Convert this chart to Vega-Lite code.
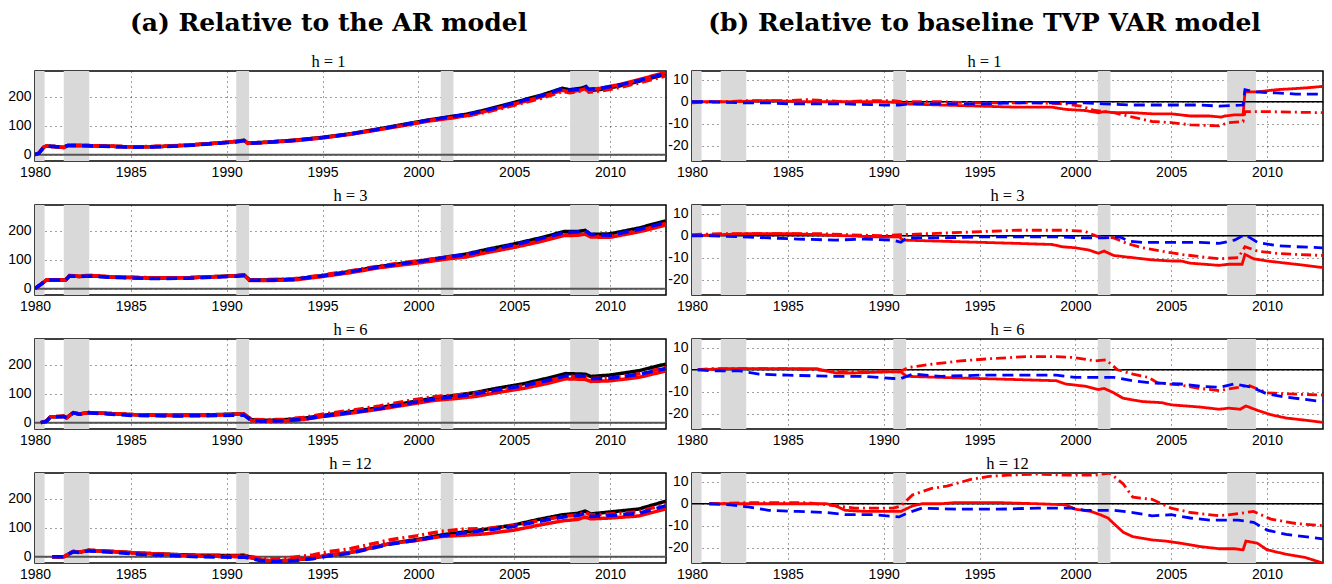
{
"$schema": "https://vega.github.io/schema/vega-lite/v6.json",
"background": "white",
"padding": {"left": 6, "top": 9, "right": 8, "bottom": 4},
"config": {
 "view": {"stroke": "#000", "strokeWidth": 1.5},
 "axis": {"labelFont": "Liberation Sans", "labelFontSize": 14, "labelColor": "#000", "gridColor": "#000", "gridDash": [1, 4], "gridOpacity": 0.75, "ticks": false, "domain": false, "title": null, "labelFlush": false},
 "axisX": {"labelPadding": 4},
 "axisY": {"labelPadding": 4},
 "title": {"color": "#000", "font": "Liberation Serif", "fontSize": 16.5, "fontWeight": "normal", "anchor": "middle", "frame": "group", "offset": 1, "subtitleColor": "#000", "subtitleFont": "Liberation Serif", "subtitleFontSize": 16.5, "subtitlePadding": 18}
},
"datasets": {
 "rec": [{"x0":1980.0,"x1":1980.5},{"x0":1981.5,"x1":1982.83},{"x0":1990.5,"x1":1991.17},{"x0":2001.17,"x1":2001.83},{"x0":2007.92,"x1":2009.42}],
 "zero": [{"z":0}],
 "a1": [
{"s":"k","x":1980,"y":0},{"s":"k","x":1980.2,"y":5},{"s":"k","x":1980.45,"y":26},{"s":"k","x":1980.6,"y":30},{"s":"k","x":1981,"y":28},{"s":"k","x":1981.5,"y":25},{"s":"k","x":1981.7,"y":32},{"s":"k","x":1982.5,"y":32},{"s":"k","x":1983.5,"y":30},{"s":"k","x":1985,"y":27},{"s":"k","x":1986.5,"y":28},{"s":"k","x":1988,"y":33},{"s":"k","x":1989.5,"y":40},{"s":"k","x":1990.5,"y":46},{"s":"k","x":1990.9,"y":50},{"s":"k","x":1991.1,"y":40},{"s":"k","x":1992,"y":43},{"s":"k","x":1993.5,"y":50},{"s":"k","x":1995,"y":60},{"s":"k","x":1996.5,"y":73},{"s":"k","x":1998,"y":90},{"s":"k","x":1999.5,"y":108},{"s":"k","x":2000.5,"y":120},{"s":"k","x":2001.5,"y":130},{"s":"k","x":2002.5,"y":140},{"s":"k","x":2003.5,"y":155},{"s":"k","x":2004.5,"y":172},{"s":"k","x":2005.5,"y":190},{"s":"k","x":2006.5,"y":208},{"s":"k","x":2007.5,"y":230},{"s":"k","x":2007.9,"y":225},{"s":"k","x":2008.5,"y":230},{"s":"k","x":2008.75,"y":236},{"s":"k","x":2008.9,"y":222},{"s":"k","x":2009.5,"y":226},{"s":"k","x":2010.5,"y":238},{"s":"k","x":2011.5,"y":254},{"s":"k","x":2012.9,"y":278},
{"s":"r","x":1980,"y":0},{"s":"r","x":1980.2,"y":5},{"s":"r","x":1980.45,"y":26},{"s":"r","x":1980.6,"y":30},{"s":"r","x":1981,"y":28},{"s":"r","x":1981.5,"y":25},{"s":"r","x":1981.7,"y":32},{"s":"r","x":1982.5,"y":32},{"s":"r","x":1983.5,"y":30},{"s":"r","x":1985,"y":27},{"s":"r","x":1986.5,"y":28},{"s":"r","x":1988,"y":33},{"s":"r","x":1989.5,"y":40},{"s":"r","x":1990.5,"y":46},{"s":"r","x":1990.9,"y":49},{"s":"r","x":1991.1,"y":39},{"s":"r","x":1992,"y":42},{"s":"r","x":1993.5,"y":48},{"s":"r","x":1995,"y":58},{"s":"r","x":1996.5,"y":71},{"s":"r","x":1998,"y":87},{"s":"r","x":1999.5,"y":104},{"s":"r","x":2000.5,"y":116},{"s":"r","x":2001.5,"y":125},{"s":"r","x":2002.5,"y":135},{"s":"r","x":2003.5,"y":150},{"s":"r","x":2004.5,"y":167},{"s":"r","x":2005.5,"y":184},{"s":"r","x":2006.5,"y":202},{"s":"r","x":2007.5,"y":223},{"s":"r","x":2007.9,"y":218},{"s":"r","x":2008.5,"y":224},{"s":"r","x":2008.75,"y":230},{"s":"r","x":2008.9,"y":226},{"s":"r","x":2009.5,"y":230},{"s":"r","x":2010.5,"y":243},{"s":"r","x":2011.5,"y":260},{"s":"r","x":2012.9,"y":285},
{"s":"d","x":1980,"y":0},{"s":"d","x":1980.2,"y":5},{"s":"d","x":1980.45,"y":26},{"s":"d","x":1980.6,"y":30},{"s":"d","x":1981,"y":28},{"s":"d","x":1981.5,"y":25},{"s":"d","x":1981.7,"y":32},{"s":"d","x":1982.5,"y":32},{"s":"d","x":1983.5,"y":30},{"s":"d","x":1985,"y":27},{"s":"d","x":1986.5,"y":29},{"s":"d","x":1988,"y":33},{"s":"d","x":1989.5,"y":40},{"s":"d","x":1990.5,"y":46},{"s":"d","x":1990.9,"y":50},{"s":"d","x":1991.1,"y":40},{"s":"d","x":1992,"y":43},{"s":"d","x":1993.5,"y":50},{"s":"d","x":1995,"y":59},{"s":"d","x":1996.5,"y":72},{"s":"d","x":1998,"y":89},{"s":"d","x":1999.5,"y":107},{"s":"d","x":2000.5,"y":118},{"s":"d","x":2001.5,"y":126},{"s":"d","x":2002.5,"y":134},{"s":"d","x":2003.5,"y":147},{"s":"d","x":2004.5,"y":163},{"s":"d","x":2005.5,"y":180},{"s":"d","x":2006.5,"y":197},{"s":"d","x":2007.5,"y":219},{"s":"d","x":2007.9,"y":215},{"s":"d","x":2008.5,"y":221},{"s":"d","x":2008.75,"y":227},{"s":"d","x":2008.9,"y":217},{"s":"d","x":2009.5,"y":221},{"s":"d","x":2010.5,"y":233},{"s":"d","x":2011.5,"y":249},{"s":"d","x":2012.9,"y":273},
{"s":"b","x":1980,"y":0},{"s":"b","x":1980.2,"y":5},{"s":"b","x":1980.45,"y":26},{"s":"b","x":1980.6,"y":30},{"s":"b","x":1981,"y":28},{"s":"b","x":1981.5,"y":25},{"s":"b","x":1981.7,"y":32},{"s":"b","x":1982.5,"y":31},{"s":"b","x":1983.5,"y":29},{"s":"b","x":1985,"y":26},{"s":"b","x":1986.5,"y":27},{"s":"b","x":1988,"y":32},{"s":"b","x":1989.5,"y":39},{"s":"b","x":1990.5,"y":44},{"s":"b","x":1990.9,"y":49},{"s":"b","x":1991.1,"y":39},{"s":"b","x":1992,"y":42},{"s":"b","x":1993.5,"y":49},{"s":"b","x":1995,"y":59},{"s":"b","x":1996.5,"y":72},{"s":"b","x":1998,"y":89},{"s":"b","x":1999.5,"y":107},{"s":"b","x":2000.5,"y":119},{"s":"b","x":2001.5,"y":129},{"s":"b","x":2002.5,"y":139},{"s":"b","x":2003.5,"y":153},{"s":"b","x":2004.5,"y":170},{"s":"b","x":2005.5,"y":188},{"s":"b","x":2006.5,"y":206},{"s":"b","x":2007.5,"y":228},{"s":"b","x":2007.9,"y":223},{"s":"b","x":2008.5,"y":228},{"s":"b","x":2008.75,"y":234},{"s":"b","x":2008.9,"y":227},{"s":"b","x":2009.5,"y":230},{"s":"b","x":2010.5,"y":242},{"s":"b","x":2011.5,"y":257},{"s":"b","x":2012.9,"y":281}
 ],
 "a3": [
{"s":"k","x":1980,"y":0},{"s":"k","x":1980.3,"y":15},{"s":"k","x":1980.6,"y":30},{"s":"k","x":1981.6,"y":30},{"s":"k","x":1981.8,"y":45},{"s":"k","x":1982.3,"y":42},{"s":"k","x":1982.8,"y":45},{"s":"k","x":1984,"y":40},{"s":"k","x":1986,"y":37},{"s":"k","x":1988,"y":38},{"s":"k","x":1989.5,"y":42},{"s":"k","x":1990.5,"y":45},{"s":"k","x":1990.9,"y":48},{"s":"k","x":1991.2,"y":30},{"s":"k","x":1992,"y":30},{"s":"k","x":1993.5,"y":33},{"s":"k","x":1995,"y":45},{"s":"k","x":1996.5,"y":60},{"s":"k","x":1998,"y":77},{"s":"k","x":2000,"y":95},{"s":"k","x":2001.5,"y":110},{"s":"k","x":2002.5,"y":120},{"s":"k","x":2003.5,"y":135},{"s":"k","x":2005,"y":155},{"s":"k","x":2006.5,"y":178},{"s":"k","x":2007.6,"y":198},{"s":"k","x":2008.3,"y":198},{"s":"k","x":2008.7,"y":202},{"s":"k","x":2009,"y":188},{"s":"k","x":2010,"y":190},{"s":"k","x":2011.5,"y":210},{"s":"k","x":2012.9,"y":235},
{"s":"r","x":1980,"y":0},{"s":"r","x":1980.3,"y":15},{"s":"r","x":1980.6,"y":30},{"s":"r","x":1981.6,"y":30},{"s":"r","x":1981.8,"y":45},{"s":"r","x":1982.3,"y":42},{"s":"r","x":1982.8,"y":46},{"s":"r","x":1984,"y":41},{"s":"r","x":1986,"y":37},{"s":"r","x":1988,"y":38},{"s":"r","x":1989.5,"y":41},{"s":"r","x":1990.5,"y":44},{"s":"r","x":1990.9,"y":47},{"s":"r","x":1991.2,"y":28},{"s":"r","x":1992,"y":28},{"s":"r","x":1993.5,"y":30},{"s":"r","x":1995,"y":42},{"s":"r","x":1996.5,"y":56},{"s":"r","x":1998,"y":73},{"s":"r","x":2000,"y":89},{"s":"r","x":2001.5,"y":103},{"s":"r","x":2002.5,"y":110},{"s":"r","x":2003.5,"y":124},{"s":"r","x":2005,"y":143},{"s":"r","x":2006.5,"y":165},{"s":"r","x":2007.6,"y":184},{"s":"r","x":2008.3,"y":185},{"s":"r","x":2008.7,"y":189},{"s":"r","x":2009,"y":179},{"s":"r","x":2010,"y":178},{"s":"r","x":2011.5,"y":197},{"s":"r","x":2012.9,"y":220},
{"s":"d","x":1980,"y":0},{"s":"d","x":1980.3,"y":15},{"s":"d","x":1980.6,"y":30},{"s":"d","x":1981.6,"y":31},{"s":"d","x":1981.8,"y":46},{"s":"d","x":1982.3,"y":43},{"s":"d","x":1982.8,"y":46},{"s":"d","x":1984,"y":41},{"s":"d","x":1986,"y":38},{"s":"d","x":1988,"y":38},{"s":"d","x":1989.5,"y":42},{"s":"d","x":1990.5,"y":45},{"s":"d","x":1990.9,"y":48},{"s":"d","x":1991.2,"y":30},{"s":"d","x":1992,"y":31},{"s":"d","x":1993.5,"y":34},{"s":"d","x":1995,"y":47},{"s":"d","x":1996.5,"y":62},{"s":"d","x":1998,"y":79},{"s":"d","x":2000,"y":97},{"s":"d","x":2001.5,"y":109},{"s":"d","x":2002.5,"y":118},{"s":"d","x":2003.5,"y":129},{"s":"d","x":2005,"y":147},{"s":"d","x":2006.5,"y":168},{"s":"d","x":2007.6,"y":187},{"s":"d","x":2008.3,"y":188},{"s":"d","x":2008.7,"y":193},{"s":"d","x":2009,"y":182},{"s":"d","x":2010,"y":182},{"s":"d","x":2011.5,"y":201},{"s":"d","x":2012.9,"y":226},
{"s":"b","x":1980,"y":0},{"s":"b","x":1980.3,"y":15},{"s":"b","x":1980.6,"y":30},{"s":"b","x":1981.6,"y":30},{"s":"b","x":1981.8,"y":44},{"s":"b","x":1982.3,"y":42},{"s":"b","x":1982.8,"y":44},{"s":"b","x":1984,"y":39},{"s":"b","x":1986,"y":35},{"s":"b","x":1988,"y":36},{"s":"b","x":1989.5,"y":40},{"s":"b","x":1990.5,"y":43},{"s":"b","x":1990.9,"y":45},{"s":"b","x":1991.2,"y":29},{"s":"b","x":1992,"y":29},{"s":"b","x":1993.5,"y":32},{"s":"b","x":1995,"y":44},{"s":"b","x":1996.5,"y":59},{"s":"b","x":1998,"y":76},{"s":"b","x":2000,"y":94},{"s":"b","x":2001.5,"y":109},{"s":"b","x":2002.5,"y":118},{"s":"b","x":2003.5,"y":132},{"s":"b","x":2005,"y":152},{"s":"b","x":2006.5,"y":175},{"s":"b","x":2007.6,"y":194},{"s":"b","x":2008.3,"y":196},{"s":"b","x":2008.7,"y":201},{"s":"b","x":2009,"y":188},{"s":"b","x":2010,"y":185},{"s":"b","x":2011.5,"y":205},{"s":"b","x":2012.9,"y":229}
 ],
 "a6": [
{"s":"k","x":1980.3,"y":0},{"s":"k","x":1980.6,"y":5},{"s":"k","x":1980.8,"y":20},{"s":"k","x":1981.5,"y":22},{"s":"k","x":1981.65,"y":17},{"s":"k","x":1982,"y":35},{"s":"k","x":1982.3,"y":30},{"s":"k","x":1982.8,"y":35},{"s":"k","x":1983.5,"y":33},{"s":"k","x":1985,"y":28},{"s":"k","x":1987,"y":26},{"s":"k","x":1989,"y":27},{"s":"k","x":1990.5,"y":30},{"s":"k","x":1990.9,"y":30},{"s":"k","x":1991.3,"y":10},{"s":"k","x":1992,"y":8},{"s":"k","x":1993,"y":10},{"s":"k","x":1994,"y":15},{"s":"k","x":1995,"y":25},{"s":"k","x":1996.5,"y":38},{"s":"k","x":1998,"y":52},{"s":"k","x":1999.5,"y":70},{"s":"k","x":2000.8,"y":85},{"s":"k","x":2002,"y":95},{"s":"k","x":2003,"y":105},{"s":"k","x":2004,"y":118},{"s":"k","x":2005.5,"y":135},{"s":"k","x":2006.8,"y":155},{"s":"k","x":2007.7,"y":170},{"s":"k","x":2008.7,"y":168},{"s":"k","x":2009,"y":160},{"s":"k","x":2010,"y":165},{"s":"k","x":2011.5,"y":180},{"s":"k","x":2012.9,"y":203},
{"s":"r","x":1980.3,"y":0},{"s":"r","x":1980.6,"y":5},{"s":"r","x":1980.8,"y":20},{"s":"r","x":1981.5,"y":22},{"s":"r","x":1981.65,"y":17},{"s":"r","x":1982,"y":35},{"s":"r","x":1982.3,"y":30},{"s":"r","x":1982.8,"y":35},{"s":"r","x":1983.5,"y":33},{"s":"r","x":1985,"y":28},{"s":"r","x":1987,"y":25},{"s":"r","x":1989,"y":25},{"s":"r","x":1990.5,"y":29},{"s":"r","x":1990.9,"y":29},{"s":"r","x":1991.3,"y":7},{"s":"r","x":1992,"y":5},{"s":"r","x":1993,"y":6},{"s":"r","x":1994,"y":11},{"s":"r","x":1995,"y":21},{"s":"r","x":1996.5,"y":33},{"s":"r","x":1998,"y":47},{"s":"r","x":1999.5,"y":63},{"s":"r","x":2000.8,"y":77},{"s":"r","x":2002,"y":84},{"s":"r","x":2003,"y":91},{"s":"r","x":2004,"y":103},{"s":"r","x":2005.5,"y":119},{"s":"r","x":2006.8,"y":137},{"s":"r","x":2007.7,"y":152},{"s":"r","x":2008.7,"y":150},{"s":"r","x":2009,"y":143},{"s":"r","x":2010,"y":145},{"s":"r","x":2011.5,"y":157},{"s":"r","x":2012.9,"y":179},
{"s":"d","x":1980.3,"y":0},{"s":"d","x":1980.6,"y":5},{"s":"d","x":1980.8,"y":20},{"s":"d","x":1981.5,"y":22},{"s":"d","x":1981.65,"y":17},{"s":"d","x":1982,"y":35},{"s":"d","x":1982.3,"y":30},{"s":"d","x":1982.8,"y":35},{"s":"d","x":1983.5,"y":33},{"s":"d","x":1985,"y":28},{"s":"d","x":1987,"y":25},{"s":"d","x":1989,"y":26},{"s":"d","x":1990.5,"y":29},{"s":"d","x":1990.9,"y":29},{"s":"d","x":1991.3,"y":11},{"s":"d","x":1992,"y":10},{"s":"d","x":1993,"y":12},{"s":"d","x":1994,"y":18},{"s":"d","x":1995,"y":29},{"s":"d","x":1996.5,"y":43},{"s":"d","x":1998,"y":58},{"s":"d","x":1999.5,"y":76},{"s":"d","x":2000.8,"y":90},{"s":"d","x":2002,"y":96},{"s":"d","x":2003,"y":103},{"s":"d","x":2004,"y":112},{"s":"d","x":2005.5,"y":128},{"s":"d","x":2006.8,"y":146},{"s":"d","x":2007.7,"y":160},{"s":"d","x":2008.7,"y":160},{"s":"d","x":2009,"y":153},{"s":"d","x":2010,"y":154},{"s":"d","x":2011.5,"y":169},{"s":"d","x":2012.9,"y":191},
{"s":"b","x":1980.3,"y":0},{"s":"b","x":1980.6,"y":5},{"s":"b","x":1980.8,"y":19},{"s":"b","x":1981.5,"y":21},{"s":"b","x":1981.65,"y":16},{"s":"b","x":1982,"y":34},{"s":"b","x":1982.3,"y":29},{"s":"b","x":1982.8,"y":34},{"s":"b","x":1983.5,"y":31},{"s":"b","x":1985,"y":25},{"s":"b","x":1987,"y":23},{"s":"b","x":1989,"y":24},{"s":"b","x":1990.5,"y":26},{"s":"b","x":1990.9,"y":26},{"s":"b","x":1991.3,"y":7},{"s":"b","x":1992,"y":5},{"s":"b","x":1993,"y":7},{"s":"b","x":1994,"y":12},{"s":"b","x":1995,"y":22},{"s":"b","x":1996.5,"y":35},{"s":"b","x":1998,"y":49},{"s":"b","x":1999.5,"y":67},{"s":"b","x":2000.8,"y":81},{"s":"b","x":2002,"y":91},{"s":"b","x":2003,"y":100},{"s":"b","x":2004,"y":112},{"s":"b","x":2005.5,"y":128},{"s":"b","x":2006.8,"y":147},{"s":"b","x":2007.7,"y":162},{"s":"b","x":2008.7,"y":161},{"s":"b","x":2009,"y":152},{"s":"b","x":2010,"y":154},{"s":"b","x":2011.5,"y":167},{"s":"b","x":2012.9,"y":188}
 ],
 "a12": [
{"s":"k","x":1980.9,"y":0},{"s":"k","x":1981.5,"y":0},{"s":"k","x":1982,"y":18},{"s":"k","x":1982.3,"y":15},{"s":"k","x":1982.8,"y":22},{"s":"k","x":1984,"y":18},{"s":"k","x":1985.5,"y":12},{"s":"k","x":1987,"y":8},{"s":"k","x":1988.5,"y":5},{"s":"k","x":1990.5,"y":4},{"s":"k","x":1990.9,"y":5},{"s":"k","x":1991.8,"y":-12},{"s":"k","x":1992.5,"y":-15},{"s":"k","x":1993.5,"y":-12},{"s":"k","x":1994.5,"y":-5},{"s":"k","x":1995.3,"y":5},{"s":"k","x":1996.5,"y":15},{"s":"k","x":1997.5,"y":30},{"s":"k","x":1998.5,"y":45},{"s":"k","x":2000,"y":60},{"s":"k","x":2001.2,"y":75},{"s":"k","x":2002.3,"y":85},{"s":"k","x":2003.5,"y":95},{"s":"k","x":2005,"y":110},{"s":"k","x":2006.2,"y":128},{"s":"k","x":2007.5,"y":145},{"s":"k","x":2008.3,"y":150},{"s":"k","x":2008.7,"y":158},{"s":"k","x":2009,"y":148},{"s":"k","x":2010,"y":155},{"s":"k","x":2011.5,"y":165},{"s":"k","x":2012.9,"y":192},
{"s":"r","x":1980.9,"y":0},{"s":"r","x":1981.5,"y":0},{"s":"r","x":1982,"y":18},{"s":"r","x":1982.3,"y":15},{"s":"r","x":1982.8,"y":22},{"s":"r","x":1984,"y":18},{"s":"r","x":1985.5,"y":12},{"s":"r","x":1987,"y":8},{"s":"r","x":1988.5,"y":2},{"s":"r","x":1990.5,"y":0},{"s":"r","x":1990.9,"y":1},{"s":"r","x":1991.8,"y":-12},{"s":"r","x":1992.5,"y":-15},{"s":"r","x":1993.5,"y":-12},{"s":"r","x":1994.5,"y":-4},{"s":"r","x":1995.3,"y":5},{"s":"r","x":1996.5,"y":15},{"s":"r","x":1997.5,"y":30},{"s":"r","x":1998.5,"y":45},{"s":"r","x":2000,"y":57},{"s":"r","x":2001.2,"y":70},{"s":"r","x":2002.3,"y":74},{"s":"r","x":2003.5,"y":79},{"s":"r","x":2005,"y":92},{"s":"r","x":2006.2,"y":108},{"s":"r","x":2007.5,"y":124},{"s":"r","x":2008.3,"y":129},{"s":"r","x":2008.7,"y":137},{"s":"r","x":2009,"y":131},{"s":"r","x":2010,"y":134},{"s":"r","x":2011.5,"y":141},{"s":"r","x":2012.9,"y":165},
{"s":"d","x":1980.9,"y":0},{"s":"d","x":1981.5,"y":0},{"s":"d","x":1982,"y":18},{"s":"d","x":1982.3,"y":15},{"s":"d","x":1982.8,"y":22},{"s":"d","x":1984,"y":18},{"s":"d","x":1985.5,"y":12},{"s":"d","x":1987,"y":7},{"s":"d","x":1988.5,"y":3},{"s":"d","x":1990.5,"y":2},{"s":"d","x":1990.9,"y":4},{"s":"d","x":1991.8,"y":-6},{"s":"d","x":1992.5,"y":-8},{"s":"d","x":1993.5,"y":-2},{"s":"d","x":1994.5,"y":6},{"s":"d","x":1995.3,"y":17},{"s":"d","x":1996.5,"y":28},{"s":"d","x":1997.5,"y":43},{"s":"d","x":1998.5,"y":58},{"s":"d","x":2000,"y":73},{"s":"d","x":2001.2,"y":88},{"s":"d","x":2002.3,"y":95},{"s":"d","x":2003.5,"y":97},{"s":"d","x":2005,"y":108},{"s":"d","x":2006.2,"y":124},{"s":"d","x":2007.5,"y":139},{"s":"d","x":2008.3,"y":145},{"s":"d","x":2008.7,"y":154},{"s":"d","x":2009,"y":144},{"s":"d","x":2010,"y":148},{"s":"d","x":2011.5,"y":156},{"s":"d","x":2012.9,"y":182},
{"s":"b","x":1980.9,"y":0},{"s":"b","x":1981.5,"y":0},{"s":"b","x":1982,"y":17},{"s":"b","x":1982.3,"y":14},{"s":"b","x":1982.8,"y":20},{"s":"b","x":1984,"y":15},{"s":"b","x":1985.5,"y":8},{"s":"b","x":1987,"y":4},{"s":"b","x":1988.5,"y":0},{"s":"b","x":1990.5,"y":-2},{"s":"b","x":1990.9,"y":-1},{"s":"b","x":1991.8,"y":-14},{"s":"b","x":1992.5,"y":-17},{"s":"b","x":1993.5,"y":-14},{"s":"b","x":1994.5,"y":-7},{"s":"b","x":1995.3,"y":2},{"s":"b","x":1996.5,"y":12},{"s":"b","x":1997.5,"y":28},{"s":"b","x":1998.5,"y":43},{"s":"b","x":2000,"y":58},{"s":"b","x":2001.2,"y":72},{"s":"b","x":2002.3,"y":82},{"s":"b","x":2003.5,"y":91},{"s":"b","x":2005,"y":105},{"s":"b","x":2006.2,"y":121},{"s":"b","x":2007.5,"y":137},{"s":"b","x":2008.3,"y":142},{"s":"b","x":2008.7,"y":150},{"s":"b","x":2009,"y":139},{"s":"b","x":2010,"y":143},{"s":"b","x":2011.5,"y":150},{"s":"b","x":2012.9,"y":176}
 ],
 "b1": [
{"s":"r","x":1980,"y":0},{"s":"r","x":1982,"y":0},{"s":"r","x":1984,"y":0.5},{"s":"r","x":1986,"y":0},{"s":"r","x":1988,"y":0},{"s":"r","x":1990,"y":0},{"s":"r","x":1990.9,"y":-0.5},{"s":"r","x":1991.2,"y":-1},{"s":"r","x":1993,"y":-1.5},{"s":"r","x":1995,"y":-2},{"s":"r","x":1997,"y":-2.5},{"s":"r","x":1998.8,"y":-2.5},{"s":"r","x":1999.5,"y":-3.5},{"s":"r","x":2000.5,"y":-4},{"s":"r","x":2001.2,"y":-5},{"s":"r","x":2001.5,"y":-4.5},{"s":"r","x":2002,"y":-5},{"s":"r","x":2003,"y":-5},{"s":"r","x":2004,"y":-5.5},{"s":"r","x":2005,"y":-5.5},{"s":"r","x":2006,"y":-6.5},{"s":"r","x":2007,"y":-6.5},{"s":"r","x":2007.6,"y":-7},{"s":"r","x":2007.8,"y":-6.5},{"s":"r","x":2008.3,"y":-6},{"s":"r","x":2008.75,"y":-6},{"s":"r","x":2008.85,"y":4.5},{"s":"r","x":2009.5,"y":4.5},{"s":"r","x":2010.5,"y":5.5},{"s":"r","x":2011.5,"y":6},{"s":"r","x":2012.3,"y":6.5},{"s":"r","x":2012.9,"y":7},
{"s":"d","x":1980,"y":-0.5},{"s":"d","x":1981.5,"y":0},{"s":"d","x":1983,"y":0.5},{"s":"d","x":1985,"y":0.5},{"s":"d","x":1986,"y":1},{"s":"d","x":1987,"y":0.5},{"s":"d","x":1988,"y":0},{"s":"d","x":1989,"y":0.5},{"s":"d","x":1990.5,"y":0.5},{"s":"d","x":1991,"y":0},{"s":"d","x":1993,"y":0},{"s":"d","x":1995,"y":-0.5},{"s":"d","x":1998,"y":-0.5},{"s":"d","x":1999.5,"y":-1},{"s":"d","x":2000.3,"y":-2},{"s":"d","x":2001,"y":-4},{"s":"d","x":2002,"y":-5},{"s":"d","x":2003,"y":-7},{"s":"d","x":2004,"y":-9},{"s":"d","x":2005,"y":-9.5},{"s":"d","x":2006,"y":-10.5},{"s":"d","x":2007.5,"y":-11},{"s":"d","x":2008,"y":-9.5},{"s":"d","x":2008.75,"y":-9},{"s":"d","x":2008.85,"y":-4.5},{"s":"d","x":2010,"y":-4.5},{"s":"d","x":2012.9,"y":-5},
{"s":"b","x":1980,"y":0},{"s":"b","x":1981,"y":0},{"s":"b","x":1982.5,"y":-0.5},{"s":"b","x":1984,"y":-0.5},{"s":"b","x":1985,"y":-1},{"s":"b","x":1987,"y":-1},{"s":"b","x":1988,"y":-1},{"s":"b","x":1990,"y":-1.5},{"s":"b","x":1990.8,"y":-1.5},{"s":"b","x":1991.3,"y":-1},{"s":"b","x":1993,"y":-1},{"s":"b","x":1995,"y":-1},{"s":"b","x":1997,"y":-0.5},{"s":"b","x":1999,"y":-0.5},{"s":"b","x":2000.5,"y":-0.5},{"s":"b","x":2001.5,"y":-1},{"s":"b","x":2003,"y":-1.5},{"s":"b","x":2005,"y":-1.5},{"s":"b","x":2006.5,"y":-1.5},{"s":"b","x":2007.5,"y":-2},{"s":"b","x":2008.75,"y":-1.5},{"s":"b","x":2008.85,"y":5.5},{"s":"b","x":2009.3,"y":4.5},{"s":"b","x":2010.5,"y":4},{"s":"b","x":2011.5,"y":3.5},{"s":"b","x":2012.9,"y":3.5}
 ],
 "b3": [
{"s":"r","x":1980,"y":0},{"s":"r","x":1981.5,"y":0.5},{"s":"r","x":1983,"y":1},{"s":"r","x":1985,"y":1},{"s":"r","x":1986.5,"y":0.5},{"s":"r","x":1988,"y":0},{"s":"r","x":1989.5,"y":-0.5},{"s":"r","x":1990.8,"y":-0.5},{"s":"r","x":1991,"y":-2},{"s":"r","x":1993,"y":-2.5},{"s":"r","x":1995,"y":-3},{"s":"r","x":1997,"y":-3.5},{"s":"r","x":1998.8,"y":-4},{"s":"r","x":1999.3,"y":-5},{"s":"r","x":2000,"y":-5.5},{"s":"r","x":2000.7,"y":-6.5},{"s":"r","x":2001.2,"y":-8},{"s":"r","x":2001.5,"y":-7},{"s":"r","x":2002,"y":-9},{"s":"r","x":2003,"y":-10},{"s":"r","x":2004,"y":-11},{"s":"r","x":2005,"y":-11.5},{"s":"r","x":2005.5,"y":-11.5},{"s":"r","x":2006,"y":-12.5},{"s":"r","x":2007.5,"y":-13.5},{"s":"r","x":2008,"y":-13},{"s":"r","x":2008.7,"y":-13},{"s":"r","x":2008.85,"y":-8.5},{"s":"r","x":2009.3,"y":-10.5},{"s":"r","x":2010,"y":-11.5},{"s":"r","x":2011,"y":-12.5},{"s":"r","x":2012,"y":-13.5},{"s":"r","x":2012.9,"y":-14.5},
{"s":"d","x":1980,"y":0.5},{"s":"d","x":1981.5,"y":1},{"s":"d","x":1983,"y":1},{"s":"d","x":1985,"y":1},{"s":"d","x":1986.5,"y":1},{"s":"d","x":1988,"y":0.5},{"s":"d","x":1990,"y":0},{"s":"d","x":1991,"y":0.5},{"s":"d","x":1992.5,"y":1},{"s":"d","x":1994,"y":1.5},{"s":"d","x":1995.5,"y":2},{"s":"d","x":1997,"y":2.5},{"s":"d","x":1998.5,"y":2.5},{"s":"d","x":1999.5,"y":2.5},{"s":"d","x":2000.5,"y":2},{"s":"d","x":2001.2,"y":-0.5},{"s":"d","x":2002,"y":-1},{"s":"d","x":2002.7,"y":-3.5},{"s":"d","x":2003.5,"y":-5.5},{"s":"d","x":2004.5,"y":-7},{"s":"d","x":2005.5,"y":-8.5},{"s":"d","x":2006.5,"y":-9.5},{"s":"d","x":2007.5,"y":-10.5},{"s":"d","x":2008.5,"y":-10},{"s":"d","x":2008.85,"y":-5},{"s":"d","x":2009.5,"y":-7},{"s":"d","x":2010.5,"y":-8},{"s":"d","x":2011.5,"y":-8.5},{"s":"d","x":2012.9,"y":-9},
{"s":"b","x":1980,"y":0},{"s":"b","x":1981,"y":0},{"s":"b","x":1982.5,"y":-0.5},{"s":"b","x":1984,"y":-1},{"s":"b","x":1985.5,"y":-1.5},{"s":"b","x":1987.5,"y":-2},{"s":"b","x":1989,"y":-1.5},{"s":"b","x":1990.5,"y":-2},{"s":"b","x":1990.9,"y":-3},{"s":"b","x":1991.2,"y":-1},{"s":"b","x":1993,"y":-1},{"s":"b","x":1995,"y":-0.5},{"s":"b","x":1997,"y":-0.5},{"s":"b","x":1999,"y":-0.5},{"s":"b","x":2000.5,"y":-1},{"s":"b","x":2001.5,"y":-1},{"s":"b","x":2002.3,"y":-0.5},{"s":"b","x":2002.8,"y":-2.5},{"s":"b","x":2003.5,"y":-3},{"s":"b","x":2005,"y":-3},{"s":"b","x":2006.5,"y":-3},{"s":"b","x":2007.5,"y":-3.5},{"s":"b","x":2008.3,"y":-2},{"s":"b","x":2008.85,"y":0.5},{"s":"b","x":2009.5,"y":-3},{"s":"b","x":2010.5,"y":-4.5},{"s":"b","x":2011.5,"y":-5},{"s":"b","x":2012.9,"y":-5.5}
 ],
 "b6": [
{"s":"r","x":1980.3,"y":0},{"s":"r","x":1982,"y":0.5},{"s":"r","x":1984,"y":0.5},{"s":"r","x":1986.5,"y":0.5},{"s":"r","x":1987.5,"y":-1.5},{"s":"r","x":1988.5,"y":-1.5},{"s":"r","x":1990,"y":-1},{"s":"r","x":1990.9,"y":-1},{"s":"r","x":1991.2,"y":-3},{"s":"r","x":1993,"y":-3.5},{"s":"r","x":1995,"y":-4},{"s":"r","x":1997,"y":-4.5},{"s":"r","x":1999,"y":-5},{"s":"r","x":1999.5,"y":-6.5},{"s":"r","x":2000.5,"y":-7.5},{"s":"r","x":2001.2,"y":-9},{"s":"r","x":2001.5,"y":-8.5},{"s":"r","x":2002,"y":-10.5},{"s":"r","x":2002.5,"y":-13},{"s":"r","x":2003.5,"y":-14.5},{"s":"r","x":2004.5,"y":-15},{"s":"r","x":2005,"y":-16},{"s":"r","x":2006.5,"y":-17},{"s":"r","x":2007.5,"y":-18},{"s":"r","x":2008,"y":-17.5},{"s":"r","x":2008.6,"y":-18},{"s":"r","x":2008.9,"y":-16.5},{"s":"r","x":2009.5,"y":-18.5},{"s":"r","x":2010.2,"y":-20.5},{"s":"r","x":2011,"y":-22},{"s":"r","x":2012,"y":-23},{"s":"r","x":2012.9,"y":-24},
{"s":"d","x":1980.3,"y":0},{"s":"d","x":1981,"y":0.5},{"s":"d","x":1983,"y":0.5},{"s":"d","x":1985,"y":0.5},{"s":"d","x":1986.5,"y":0},{"s":"d","x":1987.5,"y":-1},{"s":"d","x":1989,"y":-1},{"s":"d","x":1990.8,"y":-1},{"s":"d","x":1991.3,"y":1},{"s":"d","x":1992.5,"y":2.5},{"s":"d","x":1994,"y":4},{"s":"d","x":1995.5,"y":5},{"s":"d","x":1996.5,"y":5.5},{"s":"d","x":1997.5,"y":6},{"s":"d","x":1999,"y":6},{"s":"d","x":2000,"y":5.5},{"s":"d","x":2001,"y":4},{"s":"d","x":2001.6,"y":4.5},{"s":"d","x":2002.2,"y":0},{"s":"d","x":2003,"y":-2},{"s":"d","x":2003.8,"y":-3.5},{"s":"d","x":2004.3,"y":-6},{"s":"d","x":2005.5,"y":-7},{"s":"d","x":2006.5,"y":-8.5},{"s":"d","x":2007.5,"y":-9.5},{"s":"d","x":2008.5,"y":-8},{"s":"d","x":2009,"y":-7},{"s":"d","x":2010,"y":-10.5},{"s":"d","x":2011,"y":-11},{"s":"d","x":2012.9,"y":-11.5},
{"s":"b","x":1980.3,"y":0},{"s":"b","x":1981,"y":-0.5},{"s":"b","x":1982.5,"y":-0.5},{"s":"b","x":1983.5,"y":-2},{"s":"b","x":1985,"y":-2.5},{"s":"b","x":1987.5,"y":-3},{"s":"b","x":1989,"y":-3},{"s":"b","x":1990.5,"y":-4},{"s":"b","x":1990.9,"y":-4},{"s":"b","x":1991.5,"y":-2},{"s":"b","x":1993,"y":-3},{"s":"b","x":1995,"y":-2.5},{"s":"b","x":1997,"y":-2.5},{"s":"b","x":1999,"y":-2.5},{"s":"b","x":2000,"y":-3.5},{"s":"b","x":2002,"y":-3.5},{"s":"b","x":2003,"y":-5},{"s":"b","x":2004,"y":-6},{"s":"b","x":2005.5,"y":-6.5},{"s":"b","x":2006.5,"y":-7.5},{"s":"b","x":2007.5,"y":-8},{"s":"b","x":2008.3,"y":-6.5},{"s":"b","x":2009.2,"y":-8},{"s":"b","x":2010,"y":-11},{"s":"b","x":2011,"y":-12.5},{"s":"b","x":2012.9,"y":-14.5}
 ],
 "b12": [
{"s":"r","x":1980.9,"y":0},{"s":"r","x":1983,"y":0},{"s":"r","x":1985,"y":0},{"s":"r","x":1987,"y":0},{"s":"r","x":1987.5,"y":-1},{"s":"r","x":1988,"y":-3},{"s":"r","x":1989,"y":-3.5},{"s":"r","x":1990.5,"y":-3.5},{"s":"r","x":1990.9,"y":-3.5},{"s":"r","x":1991.5,"y":-1},{"s":"r","x":1992,"y":0},{"s":"r","x":1993,"y":0},{"s":"r","x":1993.7,"y":0.5},{"s":"r","x":1996,"y":0.5},{"s":"r","x":1998,"y":0},{"s":"r","x":1999.5,"y":-0.5},{"s":"r","x":2000,"y":-2.5},{"s":"r","x":2000.8,"y":-3.5},{"s":"r","x":2001.3,"y":-5},{"s":"r","x":2001.7,"y":-6.5},{"s":"r","x":2002,"y":-9},{"s":"r","x":2002.5,"y":-13},{"s":"r","x":2003,"y":-15},{"s":"r","x":2004,"y":-16.5},{"s":"r","x":2004.7,"y":-17},{"s":"r","x":2005.5,"y":-18},{"s":"r","x":2006.5,"y":-19.5},{"s":"r","x":2007.5,"y":-20.5},{"s":"r","x":2008.3,"y":-20.5},{"s":"r","x":2008.75,"y":-21},{"s":"r","x":2008.9,"y":-17},{"s":"r","x":2009.5,"y":-18},{"s":"r","x":2010,"y":-21},{"s":"r","x":2011,"y":-23},{"s":"r","x":2012,"y":-24.5},{"s":"r","x":2012.9,"y":-27},
{"s":"d","x":1980.9,"y":0},{"s":"d","x":1983,"y":0.5},{"s":"d","x":1986,"y":0.5},{"s":"d","x":1987.5,"y":-1},{"s":"d","x":1988.5,"y":-2},{"s":"d","x":1990.5,"y":-2},{"s":"d","x":1990.9,"y":-1},{"s":"d","x":1991.5,"y":4},{"s":"d","x":1992.5,"y":7},{"s":"d","x":1993.3,"y":8},{"s":"d","x":1994.5,"y":11},{"s":"d","x":1995.5,"y":12.5},{"s":"d","x":1996.5,"y":13},{"s":"d","x":1998,"y":13.5},{"s":"d","x":1999.5,"y":13},{"s":"d","x":2001,"y":13},{"s":"d","x":2001.8,"y":14},{"s":"d","x":2002.5,"y":9},{"s":"d","x":2003,"y":3},{"s":"d","x":2004,"y":2},{"s":"d","x":2004.5,"y":0},{"s":"d","x":2005,"y":-2},{"s":"d","x":2006,"y":-4},{"s":"d","x":2007.5,"y":-5.5},{"s":"d","x":2008.5,"y":-4.5},{"s":"d","x":2009.3,"y":-3.5},{"s":"d","x":2010.2,"y":-7},{"s":"d","x":2011.5,"y":-9},{"s":"d","x":2012.9,"y":-10},
{"s":"b","x":1980.9,"y":0},{"s":"b","x":1982,"y":-0.5},{"s":"b","x":1983,"y":-1.5},{"s":"b","x":1984,"y":-3},{"s":"b","x":1985.5,"y":-3.5},{"s":"b","x":1987,"y":-4},{"s":"b","x":1988,"y":-5},{"s":"b","x":1989.5,"y":-5},{"s":"b","x":1990.8,"y":-6},{"s":"b","x":1991.3,"y":-4},{"s":"b","x":1992,"y":-2},{"s":"b","x":1994,"y":-2.5},{"s":"b","x":1996,"y":-2.5},{"s":"b","x":1998,"y":-2},{"s":"b","x":1999.8,"y":-2},{"s":"b","x":2000.5,"y":-3},{"s":"b","x":2002,"y":-3},{"s":"b","x":2003,"y":-4},{"s":"b","x":2004,"y":-5.5},{"s":"b","x":2005,"y":-5},{"s":"b","x":2006,"y":-6.5},{"s":"b","x":2007,"y":-7.5},{"s":"b","x":2008.5,"y":-7.5},{"s":"b","x":2009.3,"y":-8.5},{"s":"b","x":2010,"y":-12},{"s":"b","x":2011,"y":-14},{"s":"b","x":2012.9,"y":-16}
 ]
},
"columns": 2,
"bounds": "flush",
"spacing": {"row": 44, "column": 26},
"concat": [
 {"width": 631, "height": 90,
  "title": {"text": "(a) Relative to the AR model", "subtitle": "\u00a0\u00a0\u00a0\u00a0\u00a0\u00a0\u00a0\u00a0\u00a0\u00a0\u00a0h = 1", "font": "DejaVu Serif", "fontSize": 25, "fontWeight": "bold", "dx": -22},
  "layer": [
   {"data": {"name": "rec"}, "mark": {"type": "rect", "color": "#d9d9d9"},
    "encoding": {"x": {"field": "x0", "type": "quantitative", "scale": {"domain": [1980, 2012.92], "nice": false, "zero": false}, "axis": {"values": [1980, 1985, 1990, 1995, 2000, 2005, 2010], "format": "d"}}, "x2": {"field": "x1"}}},
   {"data": {"name": "zero"}, "mark": {"type": "rule", "color": "#555", "strokeWidth": 2},
    "encoding": {"y": {"field": "z", "type": "quantitative", "scale": {"domain": [-22, 290], "nice": false, "zero": false}, "axis": {"values": [0, 100, 200]}}}},
   {"data": {"name": "a1"}, "mark": {"type": "line", "clip": true, "strokeWidth": 3.5},
    "encoding": {"x": {"field": "x", "type": "quantitative", "scale": {"domain": [1980, 2012.92], "nice": false, "zero": false}, "axis": {"values": [1980, 1985, 1990, 1995, 2000, 2005, 2010], "format": "d"}},
     "y": {"field": "y", "type": "quantitative", "scale": {"domain": [-22, 290], "nice": false, "zero": false}, "axis": {"values": [0, 100, 200]}},
     "color": {"field": "s", "type": "nominal", "scale": {"domain": ["k", "r", "d", "b"], "range": ["#000000", "#ff0000", "#ff0000", "#0000ff"]}, "legend": null},
     "strokeDash": {"field": "s", "type": "nominal", "scale": {"domain": ["k", "r", "d", "b"], "range": [[1, 0], [1, 0], [10, 4, 2, 4], [11, 6]]}, "legend": null}}}
  ]},
 {"width": 631, "height": 90,
  "title": {"text": "(b) Relative to baseline TVP VAR model", "subtitle": "\u00a0\u00a0\u00a0\u00a0\u00a0\u00a0\u00a0\u00a0\u00a0\u00a0\u00a0h = 1", "font": "DejaVu Serif", "fontSize": 25, "fontWeight": "bold", "dx": -23},
  "layer": [
   {"data": {"name": "rec"}, "mark": {"type": "rect", "color": "#d9d9d9"},
    "encoding": {"x": {"field": "x0", "type": "quantitative", "scale": {"domain": [1980, 2012.92], "nice": false, "zero": false}, "axis": {"values": [1980, 1985, 1990, 1995, 2000, 2005, 2010], "format": "d"}}, "x2": {"field": "x1"}}},
   {"data": {"name": "zero"}, "mark": {"type": "rule", "color": "#000", "strokeWidth": 1.3},
    "encoding": {"y": {"field": "z", "type": "quantitative", "scale": {"domain": [-27, 14], "nice": false, "zero": false}, "axis": {"values": [-20, -10, 0, 10], "labelExpr": "'' + datum.value"}}}},
   {"data": {"name": "b1"}, "mark": {"type": "line", "clip": true, "strokeWidth": 2.8},
    "encoding": {"x": {"field": "x", "type": "quantitative", "scale": {"domain": [1980, 2012.92], "nice": false, "zero": false}, "axis": {"values": [1980, 1985, 1990, 1995, 2000, 2005, 2010], "format": "d"}},
     "y": {"field": "y", "type": "quantitative", "scale": {"domain": [-27, 14], "nice": false, "zero": false}, "axis": {"values": [-20, -10, 0, 10], "labelExpr": "'' + datum.value"}},
     "color": {"field": "s", "type": "nominal", "scale": {"domain": ["k", "r", "d", "b"], "range": ["#000000", "#ff0000", "#ff0000", "#0000ff"]}, "legend": null},
     "strokeDash": {"field": "s", "type": "nominal", "scale": {"domain": ["k", "r", "d", "b"], "range": [[1, 0], [1, 0], [10, 4, 2, 4], [11, 6]]}, "legend": null}}}
  ]},
 {"width": 631, "height": 90, "title": "h = 3",
  "layer": [
   {"data": {"name": "rec"}, "mark": {"type": "rect", "color": "#d9d9d9"},
    "encoding": {"x": {"field": "x0", "type": "quantitative", "scale": {"domain": [1980, 2012.92], "nice": false, "zero": false}, "axis": {"values": [1980, 1985, 1990, 1995, 2000, 2005, 2010], "format": "d"}}, "x2": {"field": "x1"}}},
   {"data": {"name": "zero"}, "mark": {"type": "rule", "color": "#555", "strokeWidth": 2},
    "encoding": {"y": {"field": "z", "type": "quantitative", "scale": {"domain": [-22, 290], "nice": false, "zero": false}, "axis": {"values": [0, 100, 200]}}}},
   {"data": {"name": "a3"}, "mark": {"type": "line", "clip": true, "strokeWidth": 3.5},
    "encoding": {"x": {"field": "x", "type": "quantitative", "scale": {"domain": [1980, 2012.92], "nice": false, "zero": false}, "axis": {"values": [1980, 1985, 1990, 1995, 2000, 2005, 2010], "format": "d"}},
     "y": {"field": "y", "type": "quantitative", "scale": {"domain": [-22, 290], "nice": false, "zero": false}, "axis": {"values": [0, 100, 200]}},
     "color": {"field": "s", "type": "nominal", "scale": {"domain": ["k", "r", "d", "b"], "range": ["#000000", "#ff0000", "#ff0000", "#0000ff"]}, "legend": null},
     "strokeDash": {"field": "s", "type": "nominal", "scale": {"domain": ["k", "r", "d", "b"], "range": [[1, 0], [1, 0], [10, 4, 2, 4], [11, 6]]}, "legend": null}}}
  ]},
 {"width": 631, "height": 90, "title": "h = 3",
  "layer": [
   {"data": {"name": "rec"}, "mark": {"type": "rect", "color": "#d9d9d9"},
    "encoding": {"x": {"field": "x0", "type": "quantitative", "scale": {"domain": [1980, 2012.92], "nice": false, "zero": false}, "axis": {"values": [1980, 1985, 1990, 1995, 2000, 2005, 2010], "format": "d"}}, "x2": {"field": "x1"}}},
   {"data": {"name": "zero"}, "mark": {"type": "rule", "color": "#000", "strokeWidth": 1.3},
    "encoding": {"y": {"field": "z", "type": "quantitative", "scale": {"domain": [-27, 14], "nice": false, "zero": false}, "axis": {"values": [-20, -10, 0, 10], "labelExpr": "'' + datum.value"}}}},
   {"data": {"name": "b3"}, "mark": {"type": "line", "clip": true, "strokeWidth": 2.8},
    "encoding": {"x": {"field": "x", "type": "quantitative", "scale": {"domain": [1980, 2012.92], "nice": false, "zero": false}, "axis": {"values": [1980, 1985, 1990, 1995, 2000, 2005, 2010], "format": "d"}},
     "y": {"field": "y", "type": "quantitative", "scale": {"domain": [-27, 14], "nice": false, "zero": false}, "axis": {"values": [-20, -10, 0, 10], "labelExpr": "'' + datum.value"}},
     "color": {"field": "s", "type": "nominal", "scale": {"domain": ["k", "r", "d", "b"], "range": ["#000000", "#ff0000", "#ff0000", "#0000ff"]}, "legend": null},
     "strokeDash": {"field": "s", "type": "nominal", "scale": {"domain": ["k", "r", "d", "b"], "range": [[1, 0], [1, 0], [10, 4, 2, 4], [11, 6]]}, "legend": null}}}
  ]},
 {"width": 631, "height": 90, "title": "h = 6",
  "layer": [
   {"data": {"name": "rec"}, "mark": {"type": "rect", "color": "#d9d9d9"},
    "encoding": {"x": {"field": "x0", "type": "quantitative", "scale": {"domain": [1980, 2012.92], "nice": false, "zero": false}, "axis": {"values": [1980, 1985, 1990, 1995, 2000, 2005, 2010], "format": "d"}}, "x2": {"field": "x1"}}},
   {"data": {"name": "zero"}, "mark": {"type": "rule", "color": "#555", "strokeWidth": 2},
    "encoding": {"y": {"field": "z", "type": "quantitative", "scale": {"domain": [-22, 290], "nice": false, "zero": false}, "axis": {"values": [0, 100, 200]}}}},
   {"data": {"name": "a6"}, "mark": {"type": "line", "clip": true, "strokeWidth": 3.5},
    "encoding": {"x": {"field": "x", "type": "quantitative", "scale": {"domain": [1980, 2012.92], "nice": false, "zero": false}, "axis": {"values": [1980, 1985, 1990, 1995, 2000, 2005, 2010], "format": "d"}},
     "y": {"field": "y", "type": "quantitative", "scale": {"domain": [-22, 290], "nice": false, "zero": false}, "axis": {"values": [0, 100, 200]}},
     "color": {"field": "s", "type": "nominal", "scale": {"domain": ["k", "r", "d", "b"], "range": ["#000000", "#ff0000", "#ff0000", "#0000ff"]}, "legend": null},
     "strokeDash": {"field": "s", "type": "nominal", "scale": {"domain": ["k", "r", "d", "b"], "range": [[1, 0], [1, 0], [10, 4, 2, 4], [11, 6]]}, "legend": null}}}
  ]},
 {"width": 631, "height": 90, "title": "h = 6",
  "layer": [
   {"data": {"name": "rec"}, "mark": {"type": "rect", "color": "#d9d9d9"},
    "encoding": {"x": {"field": "x0", "type": "quantitative", "scale": {"domain": [1980, 2012.92], "nice": false, "zero": false}, "axis": {"values": [1980, 1985, 1990, 1995, 2000, 2005, 2010], "format": "d"}}, "x2": {"field": "x1"}}},
   {"data": {"name": "zero"}, "mark": {"type": "rule", "color": "#000", "strokeWidth": 1.3},
    "encoding": {"y": {"field": "z", "type": "quantitative", "scale": {"domain": [-27, 14], "nice": false, "zero": false}, "axis": {"values": [-20, -10, 0, 10], "labelExpr": "'' + datum.value"}}}},
   {"data": {"name": "b6"}, "mark": {"type": "line", "clip": true, "strokeWidth": 2.8},
    "encoding": {"x": {"field": "x", "type": "quantitative", "scale": {"domain": [1980, 2012.92], "nice": false, "zero": false}, "axis": {"values": [1980, 1985, 1990, 1995, 2000, 2005, 2010], "format": "d"}},
     "y": {"field": "y", "type": "quantitative", "scale": {"domain": [-27, 14], "nice": false, "zero": false}, "axis": {"values": [-20, -10, 0, 10], "labelExpr": "'' + datum.value"}},
     "color": {"field": "s", "type": "nominal", "scale": {"domain": ["k", "r", "d", "b"], "range": ["#000000", "#ff0000", "#ff0000", "#0000ff"]}, "legend": null},
     "strokeDash": {"field": "s", "type": "nominal", "scale": {"domain": ["k", "r", "d", "b"], "range": [[1, 0], [1, 0], [10, 4, 2, 4], [11, 6]]}, "legend": null}}}
  ]},
 {"width": 631, "height": 90, "title": "h = 12",
  "layer": [
   {"data": {"name": "rec"}, "mark": {"type": "rect", "color": "#d9d9d9"},
    "encoding": {"x": {"field": "x0", "type": "quantitative", "scale": {"domain": [1980, 2012.92], "nice": false, "zero": false}, "axis": {"values": [1980, 1985, 1990, 1995, 2000, 2005, 2010], "format": "d"}}, "x2": {"field": "x1"}}},
   {"data": {"name": "zero"}, "mark": {"type": "rule", "color": "#555", "strokeWidth": 2},
    "encoding": {"y": {"field": "z", "type": "quantitative", "scale": {"domain": [-22, 290], "nice": false, "zero": false}, "axis": {"values": [0, 100, 200]}}}},
   {"data": {"name": "a12"}, "mark": {"type": "line", "clip": true, "strokeWidth": 3.5},
    "encoding": {"x": {"field": "x", "type": "quantitative", "scale": {"domain": [1980, 2012.92], "nice": false, "zero": false}, "axis": {"values": [1980, 1985, 1990, 1995, 2000, 2005, 2010], "format": "d"}},
     "y": {"field": "y", "type": "quantitative", "scale": {"domain": [-22, 290], "nice": false, "zero": false}, "axis": {"values": [0, 100, 200]}},
     "color": {"field": "s", "type": "nominal", "scale": {"domain": ["k", "r", "d", "b"], "range": ["#000000", "#ff0000", "#ff0000", "#0000ff"]}, "legend": null},
     "strokeDash": {"field": "s", "type": "nominal", "scale": {"domain": ["k", "r", "d", "b"], "range": [[1, 0], [1, 0], [10, 4, 2, 4], [11, 6]]}, "legend": null}}}
  ]},
 {"width": 631, "height": 90, "title": "h = 12",
  "layer": [
   {"data": {"name": "rec"}, "mark": {"type": "rect", "color": "#d9d9d9"},
    "encoding": {"x": {"field": "x0", "type": "quantitative", "scale": {"domain": [1980, 2012.92], "nice": false, "zero": false}, "axis": {"values": [1980, 1985, 1990, 1995, 2000, 2005, 2010], "format": "d"}}, "x2": {"field": "x1"}}},
   {"data": {"name": "zero"}, "mark": {"type": "rule", "color": "#000", "strokeWidth": 1.3},
    "encoding": {"y": {"field": "z", "type": "quantitative", "scale": {"domain": [-27, 14], "nice": false, "zero": false}, "axis": {"values": [-20, -10, 0, 10], "labelExpr": "'' + datum.value"}}}},
   {"data": {"name": "b12"}, "mark": {"type": "line", "clip": true, "strokeWidth": 2.8},
    "encoding": {"x": {"field": "x", "type": "quantitative", "scale": {"domain": [1980, 2012.92], "nice": false, "zero": false}, "axis": {"values": [1980, 1985, 1990, 1995, 2000, 2005, 2010], "format": "d"}},
     "y": {"field": "y", "type": "quantitative", "scale": {"domain": [-27, 14], "nice": false, "zero": false}, "axis": {"values": [-20, -10, 0, 10], "labelExpr": "'' + datum.value"}},
     "color": {"field": "s", "type": "nominal", "scale": {"domain": ["k", "r", "d", "b"], "range": ["#000000", "#ff0000", "#ff0000", "#0000ff"]}, "legend": null},
     "strokeDash": {"field": "s", "type": "nominal", "scale": {"domain": ["k", "r", "d", "b"], "range": [[1, 0], [1, 0], [10, 4, 2, 4], [11, 6]]}, "legend": null}}}
  ]}
]
}
